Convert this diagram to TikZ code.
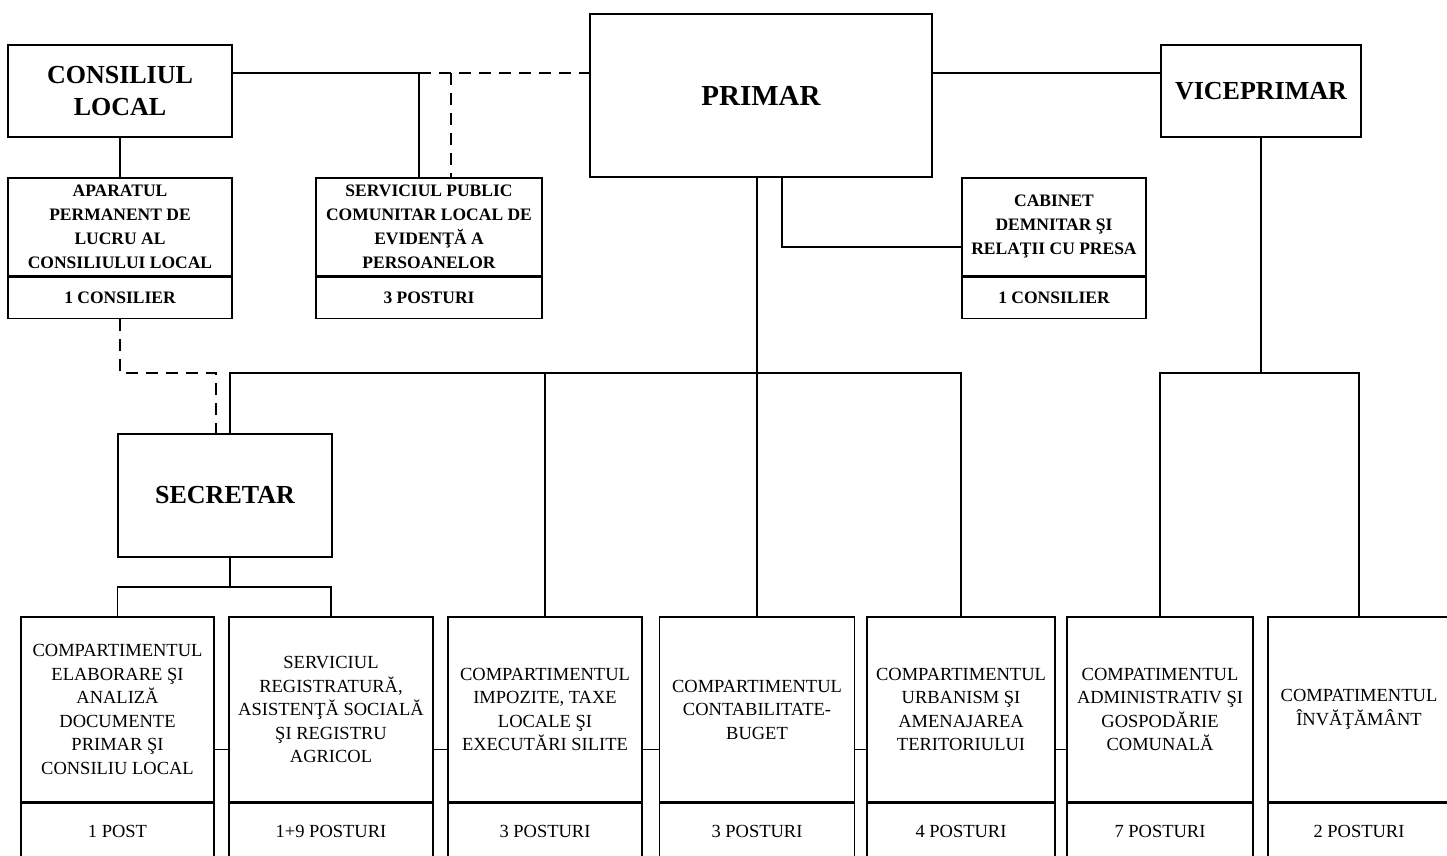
\documentclass[tikz,border=0pt]{standalone}
\usepackage{fontspec}
\setmainfont{Liberation Serif}
\usetikzlibrary{positioning}

\tikzset{
	box/.style = {draw, line width=1.5pt, inner sep=0pt, align=center, fill=white},
	headbox/.style = {box, font=\bfseries\fontsize{26}{32}\selectfont},
	topunit/.style = {box, minimum height=98pt, font=\bfseries\fontsize{17.5}{24}\selectfont},
	topcount/.style = {box, minimum height=41pt, font=\bfseries\fontsize{17.5}{24}\selectfont},
	unit/.style = {box, minimum height=185pt, font=\fontsize{18.5}{23.5}\selectfont},
	count/.style = {box, minimum height=56pt, font=\fontsize{18.5}{23.5}\selectfont},
	link/.style = {line width=1.5pt},
	dashlink/.style = {line width=1.5pt, dash pattern=on 12pt off 8pt}
}

\begin{document}
\begin{tikzpicture}[x=1pt, y=-1pt]

	\useasboundingbox (0,0) rectangle (1447,855);

	% conducere
	\node [headbox, minimum width=224pt, minimum height=92pt] (consiliu) at (120,91) {CONSILIUL\\LOCAL};
	\node [headbox, minimum width=342pt, minimum height=163pt, font=\bfseries\fontsize{29}{34}\selectfont] (primar) at (761,95.5) {PRIMAR};
	\node [headbox, minimum width=200pt, minimum height=92pt] (vice) at (1261,91) {VICEPRIMAR};
	\node [headbox, minimum width=214pt, minimum height=123pt] (secretar) at (225,495.5) {SECRETAR};

	\node [topunit, minimum width=224pt] (aparat) at (120,227) {APARATUL\\PERMANENT DE\\LUCRU AL\\CONSILIULUI LOCAL};
	\node [topcount, minimum width=224pt, below=0pt of aparat] (aparatnr) {1 CONSILIER};

	\node [topunit, minimum width=226pt] (serviciu) at (429,227) {SERVICIUL PUBLIC\\COMUNITAR LOCAL DE\\EVIDENŢĂ A\\PERSOANELOR};
	\node [topcount, minimum width=226pt, below=0pt of serviciu] (serviciunr) {3 POSTURI};

	\node [topunit, minimum width=184pt] (cabinet) at (1054,227) {CABINET\\DEMNITAR ŞI\\RELAŢII CU PRESA};
	\node [topcount, minimum width=184pt, below=0pt of cabinet] (cabinetnr) {1 CONSILIER};

	% compartimente
	\node [unit, minimum width=193pt] (b1) at (117.5,709.5) {COMPARTIMENTUL\\ELABORARE ŞI\\ANALIZĂ\\DOCUMENTE\\PRIMAR ŞI\\CONSILIU LOCAL};
	\node [count, minimum width=193pt, below=0pt of b1] (b1nr) {1 POST};

	\node [unit, minimum width=204pt] (b2) at (331,709.5) {SERVICIUL\\REGISTRATURĂ,\\ASISTENŢĂ SOCIALĂ\\ŞI REGISTRU\\AGRICOL};
	\node [count, minimum width=204pt, below=0pt of b2] (b2nr) {1+9 POSTURI};

	\node [unit, minimum width=194pt] (b3) at (545,709.5) {COMPARTIMENTUL\\IMPOZITE, TAXE\\LOCALE ŞI\\EXECUTĂRI SILITE};
	\node [count, minimum width=194pt, below=0pt of b3] (b3nr) {3 POSTURI};

	\node [unit, minimum width=195pt] (b4) at (757,709.5) {COMPARTIMENTUL\\CONTABILITATE-\\BUGET};
	\node [count, minimum width=195pt, below=0pt of b4] (b4nr) {3 POSTURI};

	\node [unit, minimum width=188pt] (b5) at (961,709.5) {COMPARTIMENTUL\\URBANISM ŞI\\AMENAJAREA\\TERITORIULUI};
	\node [count, minimum width=188pt, below=0pt of b5] (b5nr) {4 POSTURI};

	\node [unit, minimum width=186pt] (b6) at (1160,709.5) {COMPATIMENTUL\\ADMINISTRATIV ŞI\\GOSPODĂRIE\\COMUNALĂ};
	\node [count, minimum width=186pt, below=0pt of b6] (b6nr) {7 POSTURI};

	\node [unit, minimum width=182pt] (b7) at (1359,709.5) {COMPATIMENTUL\\ÎNVĂŢĂMÂNT};
	\node [count, minimum width=182pt, below=0pt of b7] (b7nr) {2 POSTURI};

	% legaturi
	\coordinate (split) at (419,73);
	\coordinate (split2) at (451,73);
	\coordinate (bus) at (0,373);
	\coordinate (fork) at (0,587);

	\draw [link] (consiliu.east |- split) -- (split) -- (split |- serviciu.north);
	\draw [dashlink] (split) -- (primar.west |- split);
	\draw [dashlink] (split2) -- (split2 |- serviciu.north);
	\draw [link] (primar.east |- split) -- (vice.west |- split);
	\draw [link] (consiliu.south) -- (aparat.north);

	\draw [link] ([xshift=21pt]primar.south) |- ([yshift=-20pt]cabinet.west);
	\draw [link] ([xshift=-4pt]primar.south) -- (b4.north);
	\draw [link] ([xshift=5pt]secretar.north) -- ([xshift=5pt]secretar.north |- bus) -| (b5.north);
	\draw [link] (b3.north) -- (b3.north |- bus);
	\draw [link] (vice.south) -- (vice.south |- bus);
	\draw [link] (b6.north) |- (b7.north |- bus) -- (b7.north);
	\draw [dashlink] (aparatnr.south) |- ([xshift=-9pt]secretar.north |- bus) -- ([xshift=-9pt]secretar.north);

	\draw [link] ([xshift=5pt]secretar.south) -- ([xshift=5pt]secretar.south |- fork);
	\draw [link] (b1.north) |- (b2.north |- fork) -- (b2.north);

	\draw [link] ([yshift=-40pt]b1.east) -- ([yshift=-40pt]b2.west);
	\draw [link] ([yshift=-40pt]b2.east) -- ([yshift=-40pt]b3.west);
	\draw [link] ([yshift=-40pt]b3.east) -- ([yshift=-40pt]b4.west);
	\draw [link] ([yshift=-40pt]b4.east) -- ([yshift=-40pt]b5.west);
	\draw [link] ([yshift=-40pt]b5.east) -- ([yshift=-40pt]b6.west);

\end{tikzpicture}
\end{document}
